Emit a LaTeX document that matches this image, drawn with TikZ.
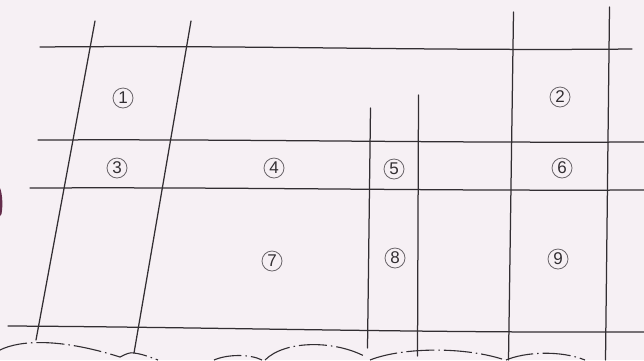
\documentclass[tikz,border=0pt]{standalone}
\usepackage{fontspec}
\setmainfont{Liberation Sans}
\definecolor{paper}{RGB}{246,240,244}
\definecolor{ink}{RGB}{50,46,50}
\definecolor{ringc}{RGB}{105,100,105}
\definecolor{blob}{RGB}{100,45,75}
\tikzset{
  gridline/.style={draw=ink, line width=1.25pt, line cap=round},
  numlabel/.style={circle, draw=ringc, line width=0.8pt, minimum size=20pt, inner sep=0pt,
    text=ink, font=\fontsize{17}{17}\selectfont},
  scallop/.style={draw=ink, line width=1.1pt, dash pattern=on 28pt off 4pt on 1.5pt off 4pt}
}
\begin{document}
\begin{tikzpicture}[x=1pt,y=-1pt]
\fill[paper] (0,0) rectangle (644,360);
\useasboundingbox (0,0) rectangle (644,360);
% dark mark at left edge
\fill[blob] (0,188) .. controls (2.5,194) and (3,206) .. (1.5,214) -- (0,216) -- cycle;

% coordinates
\coordinate (h1a) at (40,47);   \coordinate (h1b) at (632,49);
\coordinate (h2a) at (38,140);  \coordinate (h2b) at (644,142);
\coordinate (h3a) at (30,188);  \coordinate (h3b) at (644,190);
\coordinate (h4a) at (8,326);   \coordinate (h4b) at (644,332);
\coordinate (v1a) at (95,21);   \coordinate (v1b) at (36,340);
\coordinate (v2a) at (191,21);  \coordinate (v2b) at (134,353);
\coordinate (v3a) at (370.5,108); \coordinate (v3b) at (367.5,348);
\coordinate (v4a) at (418.5,95);  \coordinate (v4b) at (417.5,356);
\coordinate (v5a) at (513.5,12);  \coordinate (v5b) at (508.5,360);
\coordinate (v6a) at (609.5,7);   \coordinate (v6b) at (605.5,360);

% horizontal lines
\draw[gridline] (h1a) .. controls (250,45) and (420,51) .. (h1b);
\draw[gridline] (h2a) .. controls (250,139) and (420,143) .. (h2b);
\draw[gridline] (h3a) .. controls (250,187) and (420,191) .. (h3b);
\draw[gridline] (h4a) .. controls (200,327) and (420,333) .. (h4b);

% vertical lines
\draw[gridline] (v1a) -- (v1b);
\draw[gridline] (v2a) -- (v2b);
\draw[gridline] (v3a) -- (v3b);
\draw[gridline] (v4a) -- (v4b);
\draw[gridline] (v5a) -- (v5b);
\draw[gridline] (v6a) -- (v6b);

% scalloped dash-dot arcs at the bottom
\draw[scallop] (0,350) .. controls (20,340) and (60,338) .. (120,357);
\draw[scallop] (120,357) .. controls (126,354) and (130,352) .. (134,353) .. controls (142,354) and (150,357) .. (158,360);
\draw[scallop] (214,360) .. controls (228,354) and (250,354) .. (262,360);
\draw[scallop] (265,360) .. controls (285,340) and (335,340) .. (366,357);
\draw[scallop] (370,360) .. controls (400,348) and (460,346) .. (502,359);
\draw[scallop] (506,360) .. controls (525,352) and (560,350) .. (585,360);

% labels
\node[numlabel] (n1) at (123,98)  {1};
\node[numlabel] (n2) at (560,97)  {2};
\node[numlabel] (n3) at (117,168) {3};
\node[numlabel] (n4) at (274,168) {4};
\node[numlabel] (n5) at (394,169) {5};
\node[numlabel] (n6) at (562,168) {6};
\node[numlabel] (n7) at (272,261) {7};
\node[numlabel] (n8) at (395,258) {8};
\node[numlabel] (n9) at (558,259) {9};
\end{tikzpicture}
\end{document}
